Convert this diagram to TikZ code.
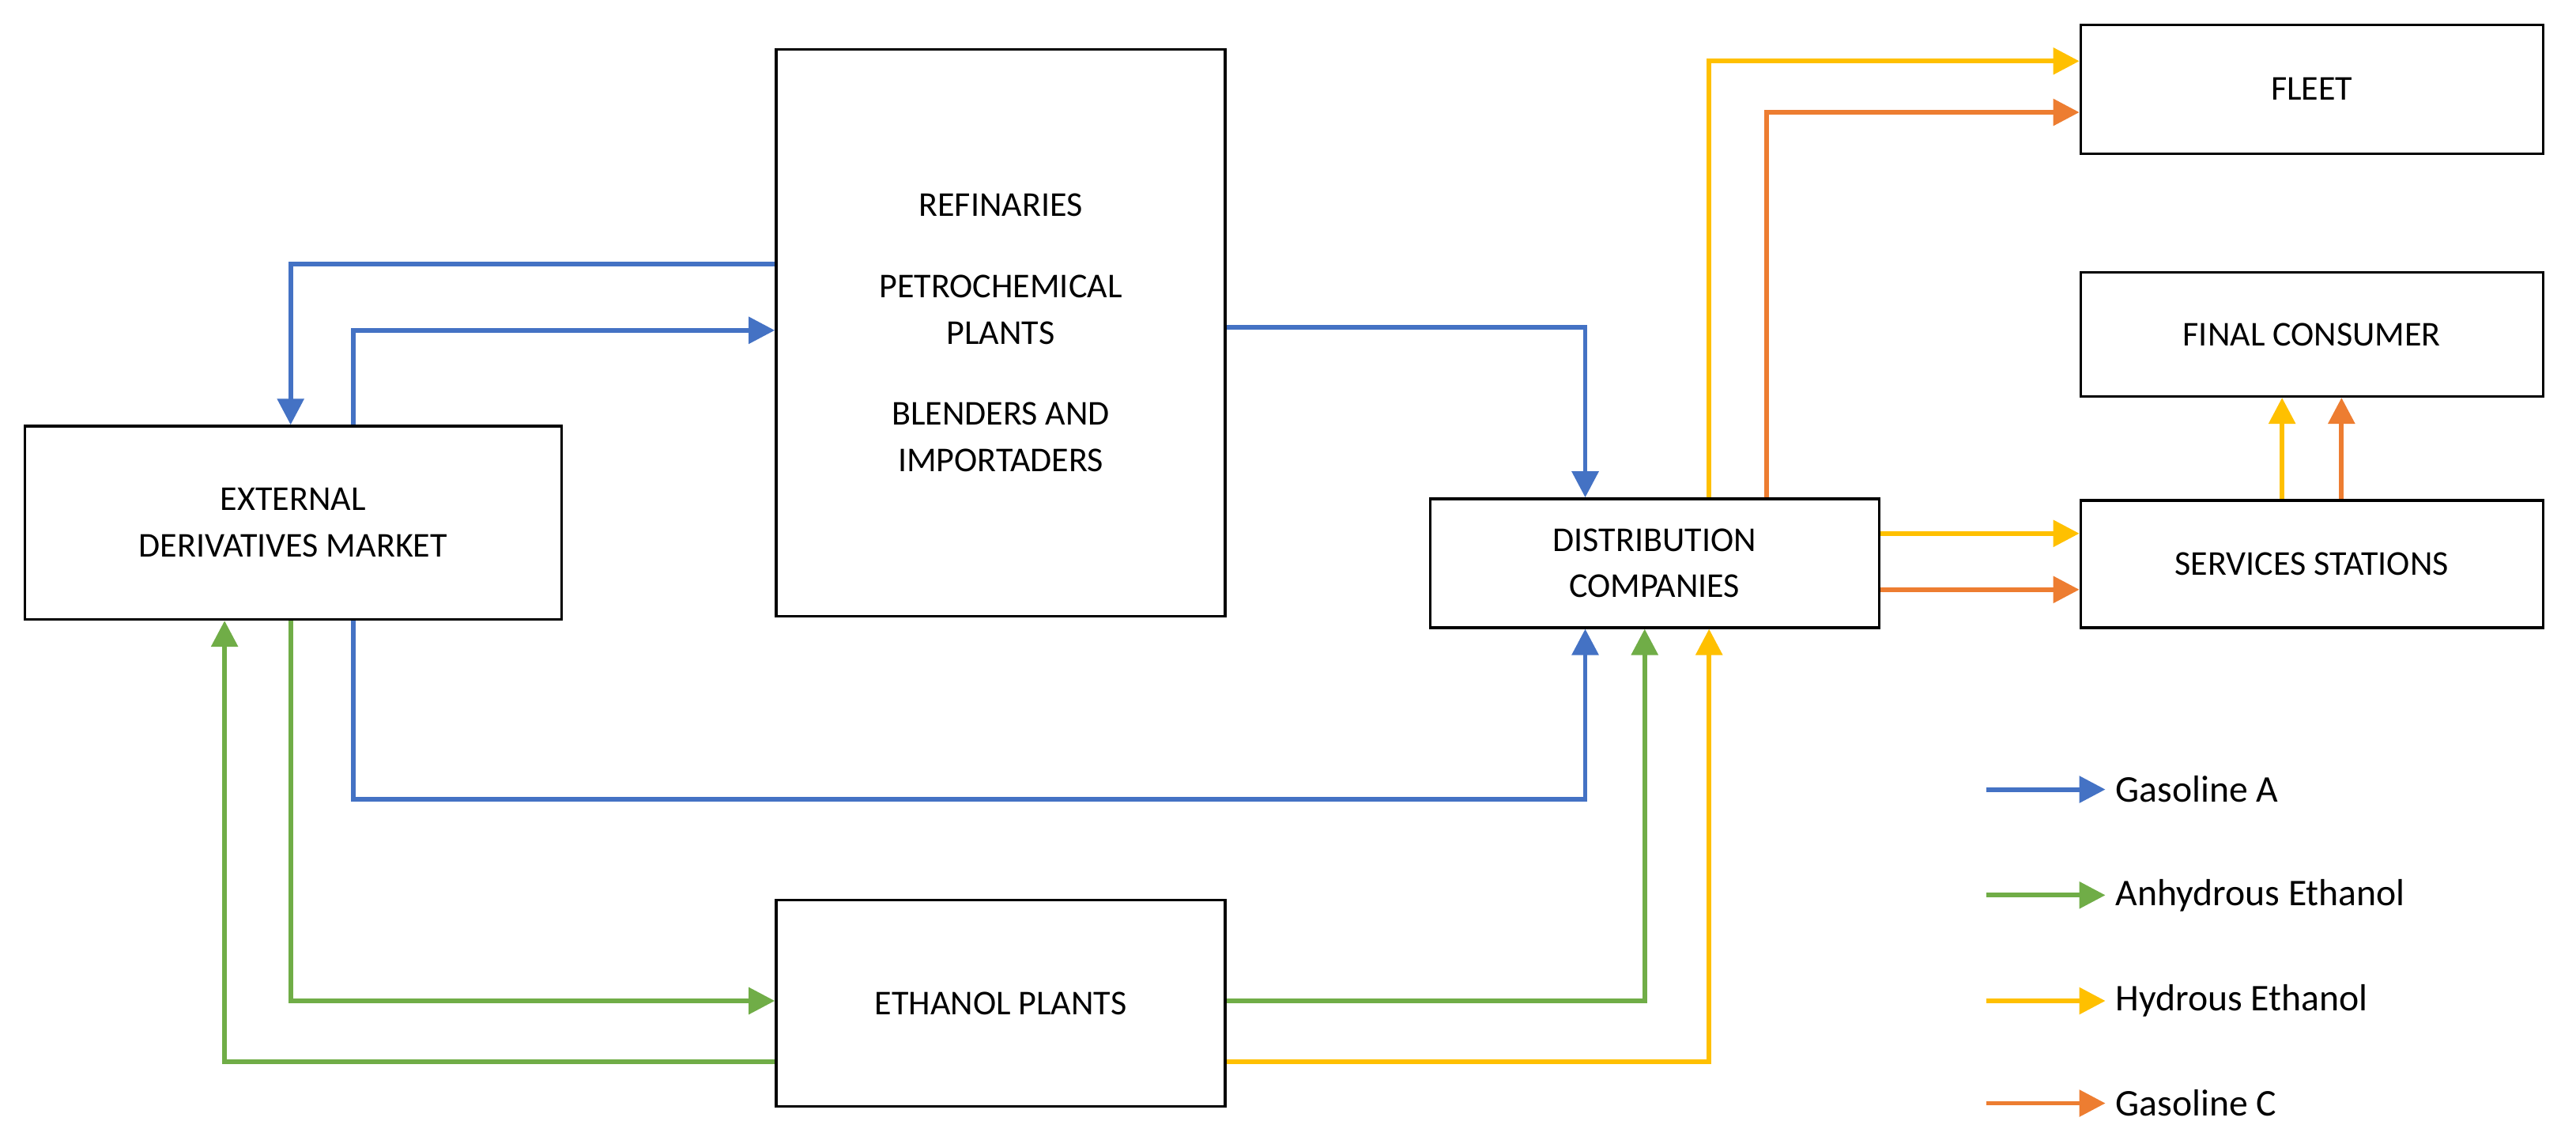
\documentclass[tikz,border=0pt]{standalone}
\usepackage{fontspec}
\setmainfont{Carlito}
\usetikzlibrary{arrows.meta}
\definecolor{cblue}{HTML}{4472C4}
\definecolor{cgreen}{HTML}{70AD47}
\definecolor{cyel}{HTML}{FFC000}
\definecolor{corg}{HTML}{ED7D31}
\begin{document}
\begin{tikzpicture}[x=0.02cm,y=-0.02cm,
  box/.style={draw,line width=0.9pt,align=center,font=\fontsize{12}{16}\selectfont,inner sep=0pt},
  fl/.style={line width=1.6pt,-{Triangle[length=9pt,width=9pt]}},
  lt/.style={font=\fontsize{13}{16}\selectfont,anchor=west}]
\useasboundingbox (0,0) rectangle (1560,690);
\node[box,minimum width=325*0.02cm,minimum height=117*0.02cm] (ext) at (177.5,316.5) {EXTERNAL\\DERIVATIVES MARKET};
\node[box,minimum width=272*0.02cm,minimum height=343*0.02cm] (ref) at (606,201.5) {REFINARIES\\[12pt]PETROCHEMICAL\\PLANTS\\[12pt]BLENDERS AND\\IMPORTADERS};
\node[box,minimum width=272*0.02cm,minimum height=125*0.02cm] (eth) at (606,607.5) {ETHANOL PLANTS};
\node[box,minimum width=272*0.02cm,minimum height=78*0.02cm] (dist) at (1002,341) {DISTRIBUTION\\COMPANIES};
\node[box,minimum width=280*0.02cm,minimum height=78*0.02cm] (fleet) at (1400,54) {FLEET};
\node[box,minimum width=280*0.02cm,minimum height=75*0.02cm] (fin) at (1400,202.5) {FINAL CONSUMER};
\node[box,minimum width=280*0.02cm,minimum height=77*0.02cm] (serv) at (1400,341.5) {SERVICES STATIONS};
% blue
\draw[fl,cblue] (ref.west |- {(0,160)}) -- (176,160) -- ({(176,0)} |- ext.north);
\draw[fl,cblue] ({(214,0)} |- ext.north) -- (214,200) -- (ref.west |- {(0,200)});
\draw[fl,cblue] (ref.east |- {(0,198)}) -- (960,198) -- ({(960,0)} |- dist.north);
\draw[fl,cblue] ({(214,0)} |- ext.south) -- (214,484) -- (960,484) -- ({(960,0)} |- dist.south);
% green
\draw[fl,cgreen] ({(176,0)} |- ext.south) -- (176,606) -- (eth.west |- {(0,606)});
\draw[fl,cgreen] (eth.west |- {(0,643)}) -- (136,643) -- ({(136,0)} |- ext.south);
\draw[fl,cgreen] (eth.east |- {(0,606)}) -- (996,606) -- ({(996,0)} |- dist.south);
% yellow
\draw[fl,cyel] (eth.east |- {(0,643)}) -- (1035,643) -- ({(1035,0)} |- dist.south);
\draw[fl,cyel] ({(1035,0)} |- dist.north) -- (1035,37) -- (fleet.west |- {(0,37)});
\draw[fl,cyel] (dist.east |- {(0,323)}) -- (serv.west |- {(0,323)});
\draw[fl,cyel] ({(1382,0)} |- serv.north) -- ({(1382,0)} |- fin.south);
% orange
\draw[fl,corg] ({(1070,0)} |- dist.north) -- (1070,68) -- (fleet.west |- {(0,68)});
\draw[fl,corg] (dist.east |- {(0,357)}) -- (serv.west |- {(0,357)});
\draw[fl,corg] ({(1418,0)} |- serv.north) -- ({(1418,0)} |- fin.south);
% legend
\coordinate (l1) at (1203,478); \node[lt] (t1) at (1275,478) {Gasoline A};
\coordinate (l2) at (1203,542); \node[lt] (t2) at (1275,542) {Anhydrous Ethanol};
\coordinate (l3) at (1203,606); \node[lt] (t3) at (1275,606) {Hydrous Ethanol};
\coordinate (l4) at (1203,668); \node[lt] (t4) at (1275,668) {Gasoline C};
\draw[fl,cblue] (l1) -- (t1.west);
\draw[fl,cgreen] (l2) -- (t2.west);
\draw[fl,cyel] (l3) -- (t3.west);
\draw[fl,corg] (l4) -- (t4.west);
\end{tikzpicture}
\end{document}
